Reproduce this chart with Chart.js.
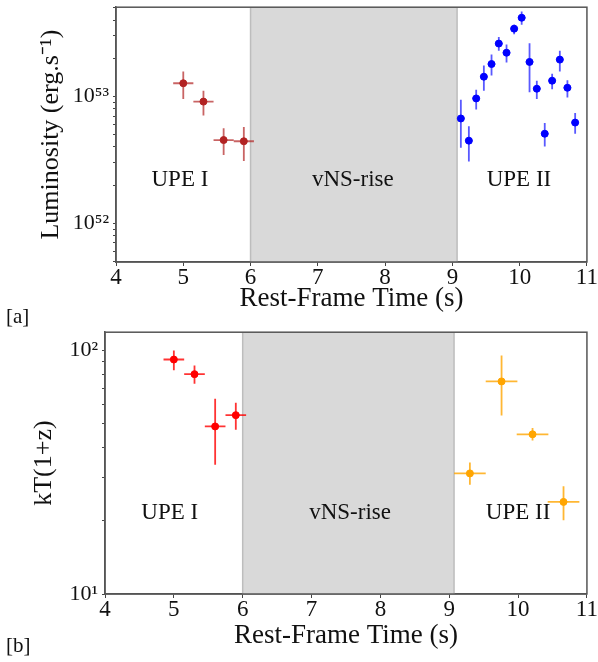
<!DOCTYPE html>
<html>
<head>
<meta charset="utf-8">
<script src="https://cdn.jsdelivr.net/npm/chart.js@4.4.0/dist/chart.umd.min.js"></script>
<style>
  body { margin: 0; background: #fff; width: 598px; height: 662px; position: relative; overflow: hidden; font-family: 'Liberation Serif', serif; }
  canvas { position: absolute; left: 0; }
  #c1 { top: -10px; }
  #c2 { top: 315px; }
  .tag { position: absolute; left: 6px; font-size: 21px; color: #111; line-height: 1; }
</style>
</head>
<body>
<canvas id="c1" width="598" height="335"></canvas>
<canvas id="c2" width="598" height="347"></canvas>
<div class="tag" style="top:306px">[a]</div>
<div class="tag" style="top:635px">[b]</div>
<script>
// panel a: luminosity
const timeTicks = [4, 5, 6, 7, 8, 9, 10, 11];
const lumTickVals = [1e52, 1e53];
const lumTickLabels = ['10⁵²', '10⁵³'];

const upe1Time = [5.0, 5.3, 5.6, 5.9];
const upe1TimeErr = [0.15, 0.15, 0.15, 0.15];
const upe1Lum = [1.27e53, 9.1e52, 4.53e52, 4.43e52];
const upe1LumLo = [9.55e52, 7.08e52, 3.46e52, 3.09e52];
const upe1LumHi = [1.57e53, 1.11e53, 5.6e52, 5.75e52];

const upe2Time = [9.126, 9.245, 9.354, 9.468, 9.582, 9.69, 9.805, 9.918, 10.03, 10.147, 10.255, 10.373, 10.483, 10.597, 10.71, 10.825];
const upe2TimeErr = [0.055, 0.055, 0.055, 0.055, 0.055, 0.055, 0.055, 0.055, 0.055, 0.055, 0.055, 0.055, 0.055, 0.055, 0.055, 0.055];
const upe2Lum = [6.7e52, 4.48e52, 9.64e52, 1.43e53, 1.8e53, 2.61e53, 2.21e53, 3.42e53, 4.17e53, 1.87e53, 1.15e53, 5.08e52, 1.33e53, 1.95e53, 1.17e53, 6.22e52];
const upe2LumLo = [3.94e52, 3.07e52, 7.87e52, 1.11e53, 1.46e53, 2.29e53, 1.85e53, 3.09e53, 3.67e53, 1.08e53, 9.55e52, 4.02e52, 1.14e53, 1.57e53, 9.82e52, 5.08e52];
const upe2LumHi = [9.42e52, 5.83e52, 1.13e53, 1.75e53, 2.14e53, 2.94e53, 2.57e53, 3.67e53, 4.68e53, 2.63e53, 1.33e53, 6.17e52, 1.51e53, 2.29e53, 1.34e53, 7.41e52];

// panel b: temperature
const kTTickVals = [10, 100];
const kTTickLabels = ['10¹', '10²'];

const kt1Time = [5.0, 5.3, 5.6, 5.9];
const kt1TimeErr = [0.15, 0.15, 0.15, 0.15];
const kt1 = [91.9, 80, 48.8, 54.3];
const kt1Lo = [83, 73.1, 34, 47.3];
const kt1Hi = [100, 86.9, 63.4, 61];

const kt2Time = [9.3, 9.76, 10.21, 10.66];
const kt2TimeErr = [0.23, 0.23, 0.23, 0.23];
const kt2 = [31.3, 74.7, 45.3, 23.9];
const kt2Lo = [28.1, 54.1, 42.7, 20.1];
const kt2Hi = [34.7, 95.4, 48.1, 27.7];

const vnsStart = 6.0, vnsEnd = 9.07;
const serif = "'Liberation Serif', 'Times New Roman', serif";

function pts(t, te, v, lo, hi) {
  return t.map((x, i) => ({ x: x, y: v[i], xe: te[i], lo: lo[i], hi: hi[i] }));
}

const decor = {
  id: 'decor',
  beforeDatasetsDraw(chart, args, opts) {
    const { ctx, chartArea: a, scales: { x, y } } = chart;
    const x0 = x.getPixelForValue(vnsStart), x1 = x.getPixelForValue(vnsEnd);
    ctx.save();
    ctx.fillStyle = '#d9d9d9';
    ctx.fillRect(x0, a.top, x1 - x0, a.bottom - a.top);
    ctx.strokeStyle = '#bdbdbd';
    ctx.lineWidth = 1.5;
    ctx.beginPath();
    ctx.moveTo(x0, a.top); ctx.lineTo(x0, a.bottom);
    ctx.moveTo(x1, a.top); ctx.lineTo(x1, a.bottom);
    ctx.stroke();

    ctx.fillStyle = '#111';
    ctx.font = '23px ' + serif;
    ctx.textAlign = 'center';
    ctx.textBaseline = 'middle';
    opts.labels.forEach(l => ctx.fillText(l.text, x.getPixelForValue(l.x), y.getPixelForValue(l.y)));

    // error bars
    chart.data.datasets.forEach(ds => {
      ctx.strokeStyle = ds.errColor;
      ctx.lineWidth = 1.8;
      ds.data.forEach(p => {
        const px = x.getPixelForValue(p.x), py = y.getPixelForValue(p.y);
        ctx.beginPath();
        ctx.moveTo(x.getPixelForValue(p.x - p.xe), py);
        ctx.lineTo(x.getPixelForValue(p.x + p.xe), py);
        ctx.moveTo(px, y.getPixelForValue(p.lo));
        ctx.lineTo(px, y.getPixelForValue(p.hi));
        ctx.stroke();
      });
    });
    ctx.restore();
  },
  afterDraw(chart) {
    const { ctx, chartArea: a } = chart;
    ctx.save();
    ctx.strokeStyle = '#555';
    ctx.lineWidth = 1.5;
    ctx.strokeRect(a.left, a.top, a.right - a.left, a.bottom - a.top);
    ctx.restore();
  }
};

function makeChart(id, cfg) {
  return new Chart(document.getElementById(id), {
    type: 'scatter',
    data: { datasets: cfg.datasets },
    options: {
      responsive: false,
      animation: false,
      layout: { padding: cfg.padding },
      plugins: {
        legend: { display: false },
        tooltip: { enabled: false },
        decor: { labels: cfg.labels }
      },
      scales: {
        x: {
          type: 'linear', min: 4, max: 11,
          afterBuildTicks: s => { s.ticks = timeTicks.map(v => ({ value: v })); },
          afterFit: s => { s.height = cfg.xHeight; },
          ticks: { font: { family: serif, size: 23, lineHeight: 1 }, color: '#111', padding: 0 },
          grid: { drawOnChartArea: false, tickLength: 4, color: '#444' },
          border: { color: '#555', width: 1.5 },
          title: { display: true, text: 'Rest-Frame Time (s)', color: '#111', font: { family: serif, size: 27 }, padding: { bottom: cfg.xTitlePad } }
        },
        y: {
          type: 'logarithmic', min: cfg.yMin, max: cfg.yMax,
          afterBuildTicks: s => {
            const t = [];
            for (let e = Math.floor(Math.log10(s.min)); e <= Math.ceil(Math.log10(s.max)); e++) {
              for (let m = 1; m < 10; m++) {
                const v = m * Math.pow(10, e);
                if (v >= s.min && v <= s.max) t.push({ value: v });
              }
            }
            s.ticks = t;
          },
          afterFit: s => { s.width = cfg.yWidth; },
          ticks: {
            autoSkip: false,
            font: { family: serif, size: 22 }, color: '#111', padding: 4,
            callback: v => {
              const i = cfg.majors.findIndex(m => Math.abs(m - v) / m < 1e-6);
              return i >= 0 ? cfg.majorLabels[i] : '';
            }
          },
          grid: { drawOnChartArea: false, tickLength: 3, color: '#444' },
          border: { color: '#555', width: 1.5 },
          title: { display: true, text: cfg.yTitle, color: '#111', font: { family: serif, size: 26 }, padding: { top: cfg.yTitlePad } }
        }
      }
    },
    plugins: [decor]
  });
}

makeChart('c1', {
  padding: { top: 15, right: 11, left: 0, bottom: 0 },
  xHeight: 63, xTitlePad: 10, yWidth: 116, yTitlePad: 36,
  yMin: 4.95e51, yMax: 5.05e53,
  majors: lumTickVals, majorLabels: lumTickLabels,
  yTitle: 'Luminosity (erg.s⁻¹)',
  labels: [
    { text: 'UPE I', x: 4.95, y: 2.2e52 },
    { text: 'vNS-rise', x: 7.52, y: 2.2e52 },
    { text: 'UPE II', x: 9.99, y: 2.2e52 }
  ],
  datasets: [
    { data: pts(upe1Time, upe1TimeErr, upe1Lum, upe1LumLo, upe1LumHi), backgroundColor: '#b22222', borderColor: '#b22222', pointRadius: 3.5, errColor: 'rgba(178,34,34,0.7)' },
    { data: pts(upe2Time, upe2TimeErr, upe2Lum, upe2LumLo, upe2LumHi), backgroundColor: '#0000ff', borderColor: '#0000ff', pointRadius: 3.5, errColor: 'rgba(0,0,255,0.65)' }
  ]
});

makeChart('c2', {
  padding: { top: 16, right: 11, left: 0, bottom: 0 },
  xHeight: 68, xTitlePad: 10, yWidth: 105, yTitlePad: 29,
  yMin: 10, yMax: 119,
  majors: kTTickVals, majorLabels: kTTickLabels,
  yTitle: 'kT(1+z)',
  labels: [
    { text: 'UPE I', x: 4.94, y: 21.5 },
    { text: 'vNS-rise', x: 7.56, y: 21.5 },
    { text: 'UPE II', x: 10.0, y: 21.5 }
  ],
  datasets: [
    { data: pts(kt1Time, kt1TimeErr, kt1, kt1Lo, kt1Hi), backgroundColor: '#ff0000', borderColor: '#ff0000', pointRadius: 3.5, errColor: 'rgba(255,0,0,0.8)' },
    { data: pts(kt2Time, kt2TimeErr, kt2, kt2Lo, kt2Hi), backgroundColor: '#ffa500', borderColor: '#ffa500', pointRadius: 3.5, errColor: 'rgba(255,165,0,0.8)' }
  ]
});
</script>
</body>
</html>
